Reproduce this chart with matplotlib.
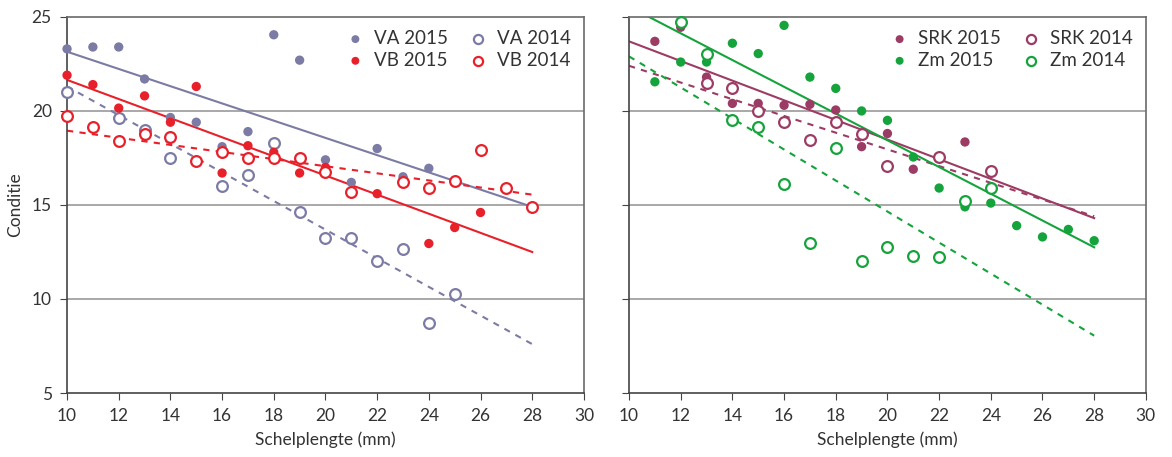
import matplotlib
matplotlib.use("Agg")
import matplotlib.pyplot as plt
import numpy as np

plt.rcParams['font.family'] = ['Lato', 'DejaVu Sans']

# linker paneel: VA en VB
va15_x = [10, 11, 12, 13, 14, 15, 16, 17, 18, 19, 20, 21, 22, 23, 24]
va15_y = [23.3, 23.4, 23.4, 21.7, 19.65, 19.4, 18.1, 18.9, 24.05, 22.7, 17.4, 16.2, 18.0, 16.5, 16.95]
va14_x = [10, 12, 13, 14, 16, 17, 18, 19, 20, 21, 22, 23, 24, 25]
va14_y = [21.0, 19.65, 19.0, 17.5, 16.0, 16.6, 18.3, 14.6, 13.25, 13.25, 12.0, 12.65, 8.7, 10.25]
vb15_x = [10, 11, 12, 13, 14, 15, 16, 17, 18, 19, 20, 22, 24, 25, 26]
vb15_y = [21.9, 21.4, 20.15, 20.8, 19.4, 21.3, 16.7, 18.15, 17.8, 16.7, 17.0, 15.6, 12.95, 13.8, 14.6]
vb14_x = [10, 11, 12, 13, 14, 15, 16, 17, 18, 19, 20, 21, 23, 24, 25, 26, 27, 28]
vb14_y = [19.75, 19.15, 18.4, 18.8, 18.6, 17.35, 17.8, 17.5, 17.5, 17.5, 16.75, 15.7, 16.2, 15.9, 16.25, 17.9, 15.9, 14.9]

# rechter paneel: SRK en Zm
srk15_x = [11, 12, 13, 14, 15, 16, 17, 18, 19, 20, 21, 23]
srk15_y = [23.7, 24.45, 21.8, 20.4, 20.4, 20.3, 20.35, 20.05, 18.1, 18.8, 16.9, 18.35]
srk14_x = [13, 14, 15, 16, 17, 18, 19, 20, 22, 24]
srk14_y = [21.5, 21.2, 20.0, 19.4, 18.45, 19.4, 18.75, 17.05, 17.55, 16.8]
zm15_x = [11, 12, 13, 14, 15, 16, 17, 18, 19, 20, 21, 22, 23, 24, 25, 26, 27, 28]
zm15_y = [21.55, 22.6, 22.6, 23.6, 23.05, 24.55, 21.8, 21.2, 20.0, 19.5, 17.55, 15.9, 14.9, 15.1, 13.9, 13.3, 13.7, 13.1]
zm14_x = [12, 13, 14, 15, 16, 17, 18, 19, 20, 21, 22, 23, 24]
zm14_y = [24.75, 23.05, 19.5, 19.15, 16.1, 13.0, 18.05, 12.0, 12.75, 12.3, 12.25, 15.2, 15.9]

trend_x = [10, 28]
va15_trend = [23.15, 14.9]
va14_trend = [21.3, 7.6]
vb15_trend = [21.65, 12.5]
vb14_trend = [18.95, 15.55]
srk15_trend = [23.7, 14.3]
srk14_trend = [22.4, 14.4]
zm15_trend = [25.55, 12.75]
zm14_trend = [22.9, 8.05]

c_va = '#7b7ba6'
c_vb = '#e8202a'
c_srk = '#9c3b63'
c_zm = '#15a33c'

fig = plt.figure(figsize=(11.72, 4.57), dpi=100)
ax1 = fig.add_axes([0.0572, 0.140, 0.441, 0.823])
ax2 = fig.add_axes([0.5367, 0.140, 0.441, 0.823])


def panel(ax, series, ylabels):
    for (x, y, tr, col, filled, lab) in series:
        ls = '-' if filled else (0, (3, 3))
        ax.plot(trend_x, tr, color=col, lw=1.5, linestyle=ls, zorder=2)
    handles = []
    for (x, y, tr, col, filled, lab) in series:
        if filled:
            h = ax.scatter(x, y, s=45, color=col, edgecolors='none', zorder=3, label=lab,
                           clip_on=False)
        else:
            h = ax.scatter(x, y, s=60, facecolors='white', edgecolors=col, linewidths=1.6,
                           zorder=3, label=lab, clip_on=False)
        handles.append(h)
    ax.set_xlim(10, 30)
    ax.set_ylim(5, 25)
    ax.set_xticks(range(10, 31, 2))
    ax.set_yticks([5, 10, 15, 20, 25])
    for yv in [10, 15, 20]:
        ax.axhline(yv, color='#9a9a9a', lw=1.2, zorder=1)
    for s in ax.spines.values():
        s.set_color('#6a6a6a')
        s.set_linewidth(1.2)
    ax.spines['left'].set_color('#444444')
    ax.spines['bottom'].set_color('#444444')
    ax.tick_params(direction='out', length=5, pad=6, color='#444444', labelsize=12.5,
                   labelcolor='#333333', top=False, right=False)
    if not ylabels:
        ax.set_yticklabels([])
    ax.set_xlabel('Schelplengte (mm)', fontsize=12.5, color='#333333', labelpad=5)
    order = [handles[0], handles[2], handles[1], handles[3]]
    ax.legend(handles=order, ncol=2, loc='upper right', frameon=False, fontsize=13.5,
              handletextpad=0.0, columnspacing=0.6, labelspacing=0.25,
              borderaxespad=0.3, markerscale=0.85, labelcolor='#333333')


panel(ax1, [
    (va15_x, va15_y, va15_trend, c_va, True, 'VA 2015'),
    (va14_x, va14_y, va14_trend, c_va, False, 'VA 2014'),
    (vb15_x, vb15_y, vb15_trend, c_vb, True, 'VB 2015'),
    (vb14_x, vb14_y, vb14_trend, c_vb, False, 'VB 2014'),
], True)
ax1.set_ylabel('Conditie', fontsize=12.5, color='#333333', labelpad=6)

panel(ax2, [
    (srk15_x, srk15_y, srk15_trend, c_srk, True, 'SRK 2015'),
    (srk14_x, srk14_y, srk14_trend, c_srk, False, 'SRK 2014'),
    (zm15_x, zm15_y, zm15_trend, c_zm, True, 'Zm 2015'),
    (zm14_x, zm14_y, zm14_trend, c_zm, False, 'Zm 2014'),
], False)

fig.savefig('out.png', dpi=100)
